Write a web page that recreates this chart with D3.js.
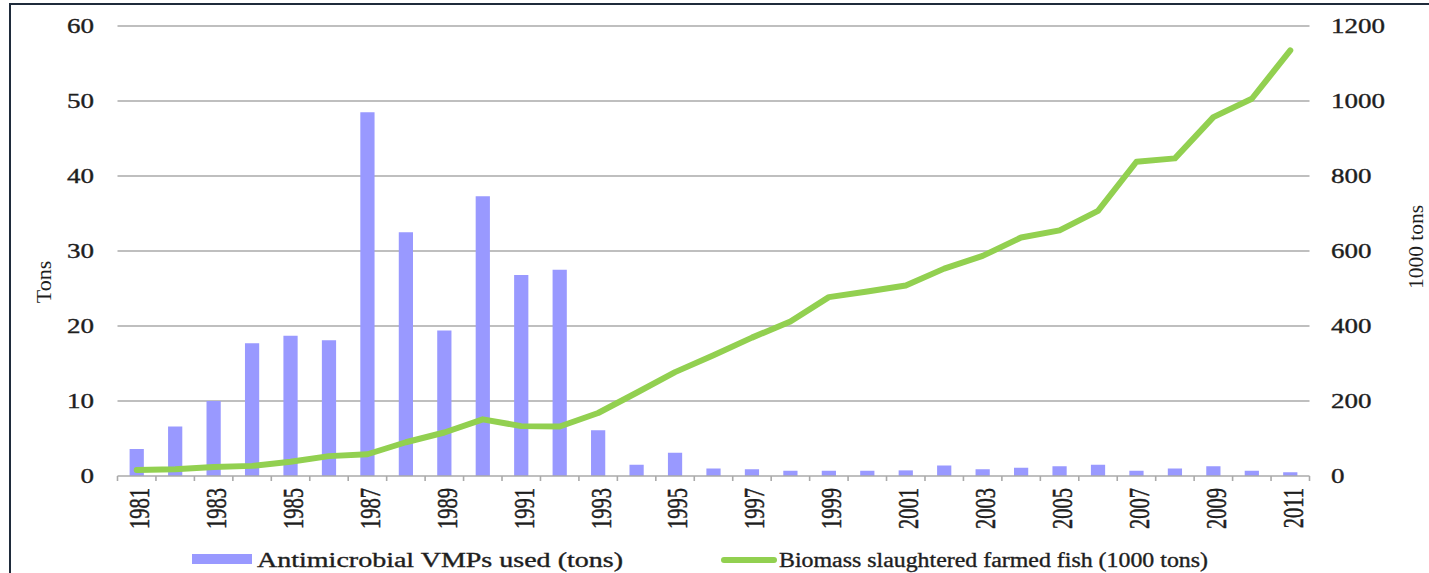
<!DOCTYPE html>
<html>
<head>
<meta charset="utf-8">
<script src="https://cdn.jsdelivr.net/npm/d3@7"></script>
<style>
  html, body { margin: 0; padding: 0; background: #fff; }
  svg { display: block; }
  text { font-family: "Liberation Serif", "Times New Roman", serif; fill: #1e1e1e; }
  .heavy { stroke: #1e1e1e; stroke-width: 0.35px; }
</style>
</head>
<body>
<svg id="chart" width="1429" height="573"></svg>
<script>
// ---- data ----
const years = d3.range(1981, 2012).map(String);
const antimicrobialTons = [3.6, 6.6, 10.0, 17.7, 18.7, 18.1, 48.5, 32.5, 19.4, 37.3, 26.8, 27.5, 6.1, 1.5, 3.1, 1.0, 0.9, 0.7, 0.7, 0.7, 0.75, 1.4, 0.9, 1.1, 1.3, 1.5, 0.7, 1.0, 1.3, 0.7, 0.5];
const biomassKTons = [16, 18, 24, 27, 38, 53, 58, 90, 116, 151, 133, 132, 168, 222, 277, 322, 369, 412, 477, 492, 508, 553, 587, 636, 655, 707, 838, 847, 957, 1006, 1135];
const leftTicks = [0, 10, 20, 30, 40, 50, 60];
const rightTicks = [0, 200, 400, 600, 800, 1000, 1200];
const labelYears = years.filter((d, i) => i % 2 === 0);
const seriesNames = ["Antimicrobial VMPs used (tons)", "Biomass slaughtered farmed fish (1000 tons)"];
const leftTitle = "Tons";
const rightTitle = "1000 tons";

// ---- layout ----
const svg = d3.select("#chart");
const plot = { left: 117.5, right: 1309.5, top: 26, bottom: 476 };
const stretch = 1.35;      // horizontal stretch of the original tick text
const barColor = "#9999ff";
const lineColor = "#92d050";
const gridColor = "#aaaaaa";

const x = d3.scaleBand().domain(years).range([plot.left, plot.right]).padding(0);
const yL = d3.scaleLinear().domain([0, 60]).range([plot.bottom, plot.top]);
const yR = d3.scaleLinear().domain([0, 1200]).range([plot.bottom, plot.top]);

// border
svg.append("path")
  .attr("d", "M10,573 L10,4 L1429,4")
  .attr("fill", "none").attr("stroke", "#1f2b3b").attr("stroke-width", 2);

// gridlines
svg.append("g").selectAll("line").data(leftTicks.filter(d => d > 0)).join("line")
  .attr("x1", plot.left).attr("x2", plot.right)
  .attr("y1", d => yL(d)).attr("y2", d => yL(d))
  .attr("stroke", gridColor).attr("stroke-width", 1.6);

// bars
const barFrac = 0.37;
svg.append("g").selectAll("rect").data(years).join("rect")
  .attr("x", d => x(d) + x.bandwidth() * (1 - barFrac) / 2)
  .attr("width", x.bandwidth() * barFrac)
  .attr("y", (d, i) => yL(antimicrobialTons[i]))
  .attr("height", (d, i) => yL(0) - yL(antimicrobialTons[i]))
  .attr("fill", barColor);

// x axis line + ticks at band boundaries
svg.append("line")
  .attr("x1", plot.left).attr("x2", plot.right)
  .attr("y1", yL(0)).attr("y2", yL(0))
  .attr("stroke", gridColor).attr("stroke-width", 1.6);
const boundaries = years.map(d => x(d)).concat([x.range()[1]]);
svg.append("g").selectAll("line").data(boundaries).join("line")
  .attr("x1", d => d).attr("x2", d => d)
  .attr("y1", yL(0)).attr("y2", yL(0) + 5)
  .attr("stroke", gridColor).attr("stroke-width", 1.6);

// line series
const line = d3.line()
  .x((d, i) => x(years[i]) + x.bandwidth() / 2)
  .y(d => yR(d));
svg.append("path").datum(biomassKTons)
  .attr("d", line)
  .attr("fill", "none").attr("stroke", lineColor)
  .attr("stroke-width", 6).attr("stroke-linejoin", "round").attr("stroke-linecap", "round");

// left tick labels
svg.append("g").selectAll("g").data(leftTicks).join("g")
  .attr("transform", d => `translate(94,${yL(d)}) scale(${stretch},1)`)
  .append("text").attr("class", "heavy")
  .attr("text-anchor", "end").attr("dy", "0.35em")
  .attr("font-size", 20)
  .text(d => d);

// right tick labels
svg.append("g").selectAll("g").data(rightTicks).join("g")
  .attr("transform", d => `translate(1331,${yR(d)}) scale(${stretch},1)`)
  .append("text").attr("class", "heavy")
  .attr("text-anchor", "start").attr("dy", "0.35em")
  .attr("font-size", 20)
  .text(d => d);

// x labels (rotated)
svg.append("g").selectAll("g").data(labelYears).join("g")
  .attr("transform", d => `translate(${x(d) + x.bandwidth() / 2 + 2},488) scale(1.45,1)`)
  .append("text").attr("class", "heavy")
  .attr("transform", "rotate(-90)")
  .attr("text-anchor", "end").attr("dy", "0.35em")
  .attr("font-size", 20.5)
  .text(d => d);

// axis titles
svg.append("text")
  .attr("transform", "translate(43,282) rotate(-90)")
  .attr("text-anchor", "middle").attr("dy", "0.35em")
  .attr("font-size", 22)
  .text(leftTitle);
svg.append("text")
  .attr("transform", "translate(1415,247) rotate(-90)")
  .attr("text-anchor", "middle").attr("dy", "0.35em")
  .attr("font-size", 21.5)
  .text(rightTitle);

// legend
const lg = svg.append("g");
lg.append("rect").attr("x", 192).attr("y", 554).attr("width", 60).attr("height", 10).attr("fill", barColor);
lg.append("text").attr("class", "heavy")
  .attr("x", 257).attr("y", 567).attr("font-size", 20)
  .attr("textLength", 366).attr("lengthAdjust", "spacingAndGlyphs")
  .text(seriesNames[0]);
lg.append("line").attr("x1", 724).attr("x2", 774).attr("y1", 560).attr("y2", 560)
  .attr("stroke", lineColor).attr("stroke-width", 6).attr("stroke-linecap", "round");
lg.append("text").attr("class", "heavy")
  .attr("x", 779).attr("y", 567).attr("font-size", 20)
  .attr("textLength", 429).attr("lengthAdjust", "spacingAndGlyphs")
  .text(seriesNames[1]);
</script>
</body>
</html>
